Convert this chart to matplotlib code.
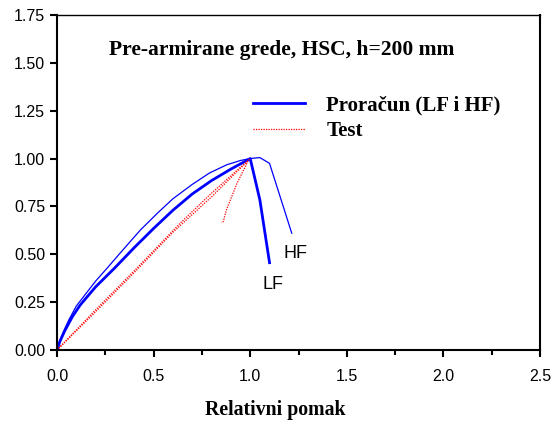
import matplotlib
matplotlib.use("Agg")
import matplotlib.pyplot as plt
from matplotlib.ticker import MultipleLocator, FormatStrFormatter

# proracun, LF (debela linija)
lf_x = [0.0, 0.015, 0.04, 0.08, 0.12, 0.20, 0.30, 0.40, 0.50, 0.60, 0.70, 0.80, 0.90, 1.00,
        1.05, 1.10]
lf_y = [0.0, 0.045, 0.10, 0.175, 0.235, 0.33, 0.43, 0.535, 0.635, 0.73, 0.815, 0.885, 0.945, 1.00,
        0.784, 0.456]

# proracun, HF (tanka linija)
hf_x = [0.0, 0.015, 0.035, 0.06, 0.10, 0.15, 0.20, 0.257, 0.33, 0.43, 0.52, 0.60, 0.70, 0.79,
        0.88, 0.95, 1.00, 1.05, 1.10, 1.215]
hf_y = [0.0, 0.05, 0.10, 0.155, 0.23, 0.295, 0.36, 0.425, 0.51, 0.625, 0.715, 0.79, 0.865, 0.925,
        0.968, 0.99, 1.00, 1.005, 0.975, 0.61]

# test 1
t1_x = [0.0, 0.20, 0.404, 0.637, 0.79, 0.90, 1.00]
t1_y = [0.0, 0.21, 0.418, 0.662, 0.81, 0.91, 1.00]

# test 2 (s padajucim dijelom)
t2_x = [0.0, 0.20, 0.40, 0.60, 0.80, 0.99, 0.931, 0.876, 0.862, 0.857, 0.852]
t2_y = [0.0, 0.20, 0.405, 0.615, 0.80, 0.99, 0.869, 0.73, 0.675, 0.665, 0.665]

serif = ['Liberation Serif', 'DejaVu Serif']
sans = ['Liberation Sans', 'DejaVu Sans']

fig = plt.figure(figsize=(5.59, 4.23), dpi=100)
ax = fig.add_axes([0.102, 0.1726, 0.864, 0.792])

ax.plot(lf_x, lf_y, '-', color='#0000ff', lw=2.0, label='Proračun (LF i HF)')
ax.plot(hf_x, hf_y, '-', color='#0000ff', lw=0.9)
ax.plot(t1_x, t1_y, color='red', lw=0.9, ls=(0, (1, 1)), label='Test')
ax.plot(t2_x, t2_y, color='red', lw=0.9, ls=(0, (1, 1)))

ax.text(1.232, 0.505, 'HF', fontsize=13, family=sans, ha='center', va='center')
ax.text(1.118, 0.34, 'LF', fontsize=13, family=sans, ha='center', va='center')

ax.text(0.27, 1.565, 'Pre-armirane grede, HSC, h=200 mm', fontsize=15.5,
        family=serif, fontweight='bold', va='center')

ax.set_xlim(0, 2.5)
ax.set_ylim(0, 1.75)
ax.xaxis.set_major_locator(MultipleLocator(0.5))
ax.xaxis.set_minor_locator(MultipleLocator(0.25))
ax.yaxis.set_major_locator(MultipleLocator(0.25))
ax.xaxis.set_major_formatter(FormatStrFormatter('%.1f'))
ax.yaxis.set_major_formatter(FormatStrFormatter('%.2f'))
ax.tick_params(which='major', direction='out', length=5, width=1.5, labelsize=11.5)
ax.tick_params(which='minor', direction='out', length=3.5, width=1.5)
ax.tick_params(axis='x', pad=9)
for lab in ax.get_xticklabels() + ax.get_yticklabels():
    lab.set_family(sans)

for side in ['left', 'bottom', 'right']:
    ax.spines[side].set_linewidth(1.5)
ax.spines['top'].set_linewidth(1.0)

ax.set_xlabel('Relativni pomak', fontsize=14.2, family=serif, fontweight='bold')
ax.xaxis.set_label_coords(0.452, -0.148)

leg = ax.legend(loc='upper left', bbox_to_anchor=(0.366, 0.815), frameon=False,
                handlelength=2.5, handletextpad=1.05, labelspacing=0.25,
                prop={'family': serif, 'weight': 'bold', 'size': 15})

fig.savefig('out.png', dpi=100)
